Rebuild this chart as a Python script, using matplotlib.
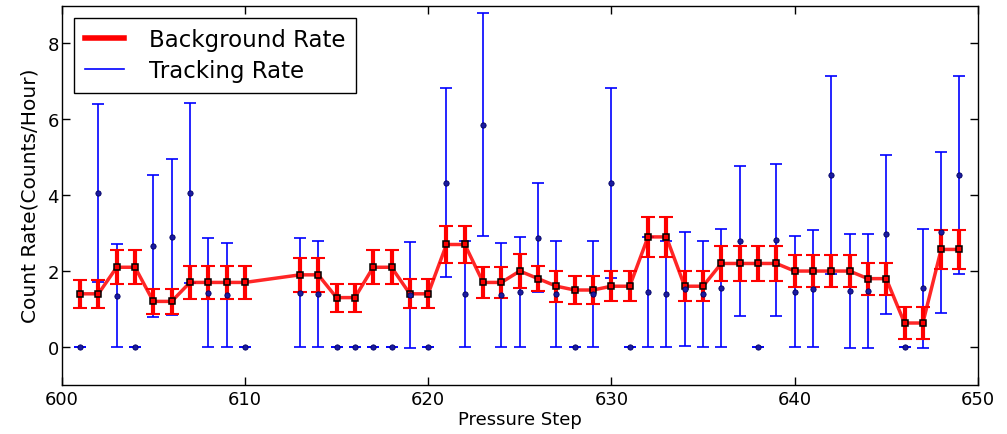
import numpy as np
import matplotlib
matplotlib.use("Agg")
import matplotlib.pyplot as plt
from matplotlib.lines import Line2D

# pressure steps (611, 612 missing)
steps = list(range(601, 611)) + list(range(613, 650))

bkg_rate = [1.4, 1.4, 2.1, 2.1, 1.2, 1.2, 1.7, 1.7, 1.7, 1.7,
            1.9, 1.9, 1.3, 1.3, 2.1, 2.1, 1.4, 1.4, 2.7, 2.7,
            1.7, 1.7, 2.0, 1.8, 1.6, 1.5, 1.5, 1.6, 1.6, 2.9,
            2.9, 1.6, 1.6, 2.2, 2.2, 2.2, 2.2, 2.0, 2.0, 2.0,
            2.0, 1.8, 1.8, 0.63, 0.63, 2.57, 2.57]
bkg_err = [0.37, 0.37, 0.45, 0.45, 0.33, 0.33, 0.43, 0.43, 0.43, 0.43,
           0.45, 0.45, 0.37, 0.37, 0.45, 0.45, 0.38, 0.38, 0.5, 0.5,
           0.41, 0.41, 0.45, 0.32, 0.41, 0.38, 0.38, 0.4, 0.4, 0.53,
           0.53, 0.4, 0.4, 0.47, 0.47, 0.47, 0.47, 0.43, 0.43, 0.43,
           0.43, 0.42, 0.42, 0.42, 0.42, 0.52, 0.52]

trk_rate = [0, 4.05, 1.35, 0, 2.65, 2.9, 4.05, 1.43, 1.37, 0,
            1.43, 1.39, 0, 0, 0, 0, 1.37, 0, 4.33, 1.39,
            5.86, 1.37, 1.45, 2.88, 1.40, 0, 1.40, 4.32, 0, 1.45,
            1.39, 1.53, 1.40, 1.55, 2.79, 0, 2.82, 1.46, 1.53, 4.53,
            1.48, 1.48, 2.97, 0, 1.55, 3.02, 4.53]
trk_err = [0, 2.35, 1.35, 0, 1.87, 2.06, 2.37, 1.43, 1.38, 0,
           1.43, 1.39, 0, 0, 0, 0, 1.4, 0, 2.5, 1.39,
           2.93, 1.37, 1.45, 1.44, 1.40, 0, 1.40, 2.5, 0, 1.45,
           1.39, 1.5, 1.40, 1.55, 1.97, 0, 2.0, 1.47, 1.54, 2.62,
           1.5, 1.5, 2.1, 0, 1.57, 2.13, 2.62]

fig = plt.figure(figsize=(10.07, 4.35), dpi=100)
ax = fig.add_axes([0.0613, 0.113, 0.9097, 0.872])

# tracking rate error bars (thin blue)
ax.errorbar(steps, trk_rate, yerr=trk_err, fmt='none', ecolor='blue',
            elinewidth=1.2, capsize=4.5, capthick=1.2, zorder=2)

# background rate (thick red)
ax.errorbar(steps, bkg_rate, yerr=bkg_err, fmt='none', ecolor='red',
            elinewidth=3, capsize=5, capthick=1.5, zorder=3)
ax.plot(steps, bkg_rate, color='red', lw=2.5, alpha=0.85, zorder=4)
ax.plot(steps, bkg_rate, ls='none', marker='s', ms=4.2, mfc='red',
        mec='black', mew=1.1, zorder=5)

# tracking dots on top
ax.plot(steps, trk_rate, ls='none', marker='o', ms=3.8, mfc='#1a1aa0',
        mec='#000060', mew=0.6, zorder=6)

ax.set_xlim(600, 650)
ax.set_ylim(-1, 9)
ax.set_xticks([600, 610, 620, 630, 640, 650])
ax.set_yticks([0, 2, 4, 6, 8])
ax.tick_params(direction='in', top=True, right=True, length=6, width=1,
               labelsize=13)
ax.tick_params(axis='x', pad=4)
ax.tick_params(axis='y', pad=2)
for sp in ax.spines.values():
    sp.set_linewidth(1.0)

ax.set_xlabel('Pressure Step', fontsize=13, labelpad=1)
ax.set_ylabel('Count Rate(Counts/Hour)', fontsize=14.5, labelpad=6)

handles = [Line2D([], [], color='red', lw=4),
           Line2D([], [], color='blue', lw=1.2)]
leg = ax.legend(handles, ['Background Rate', 'Tracking Rate'], loc='upper left',
                fontsize=16.5, fancybox=False, framealpha=1, edgecolor='black',
                handlelength=1.7, borderpad=0.45, labelspacing=0.35,
                handletextpad=1.1, borderaxespad=0.55)
leg.get_frame().set_linewidth(1.0)

fig.savefig('out.png', dpi=100)
